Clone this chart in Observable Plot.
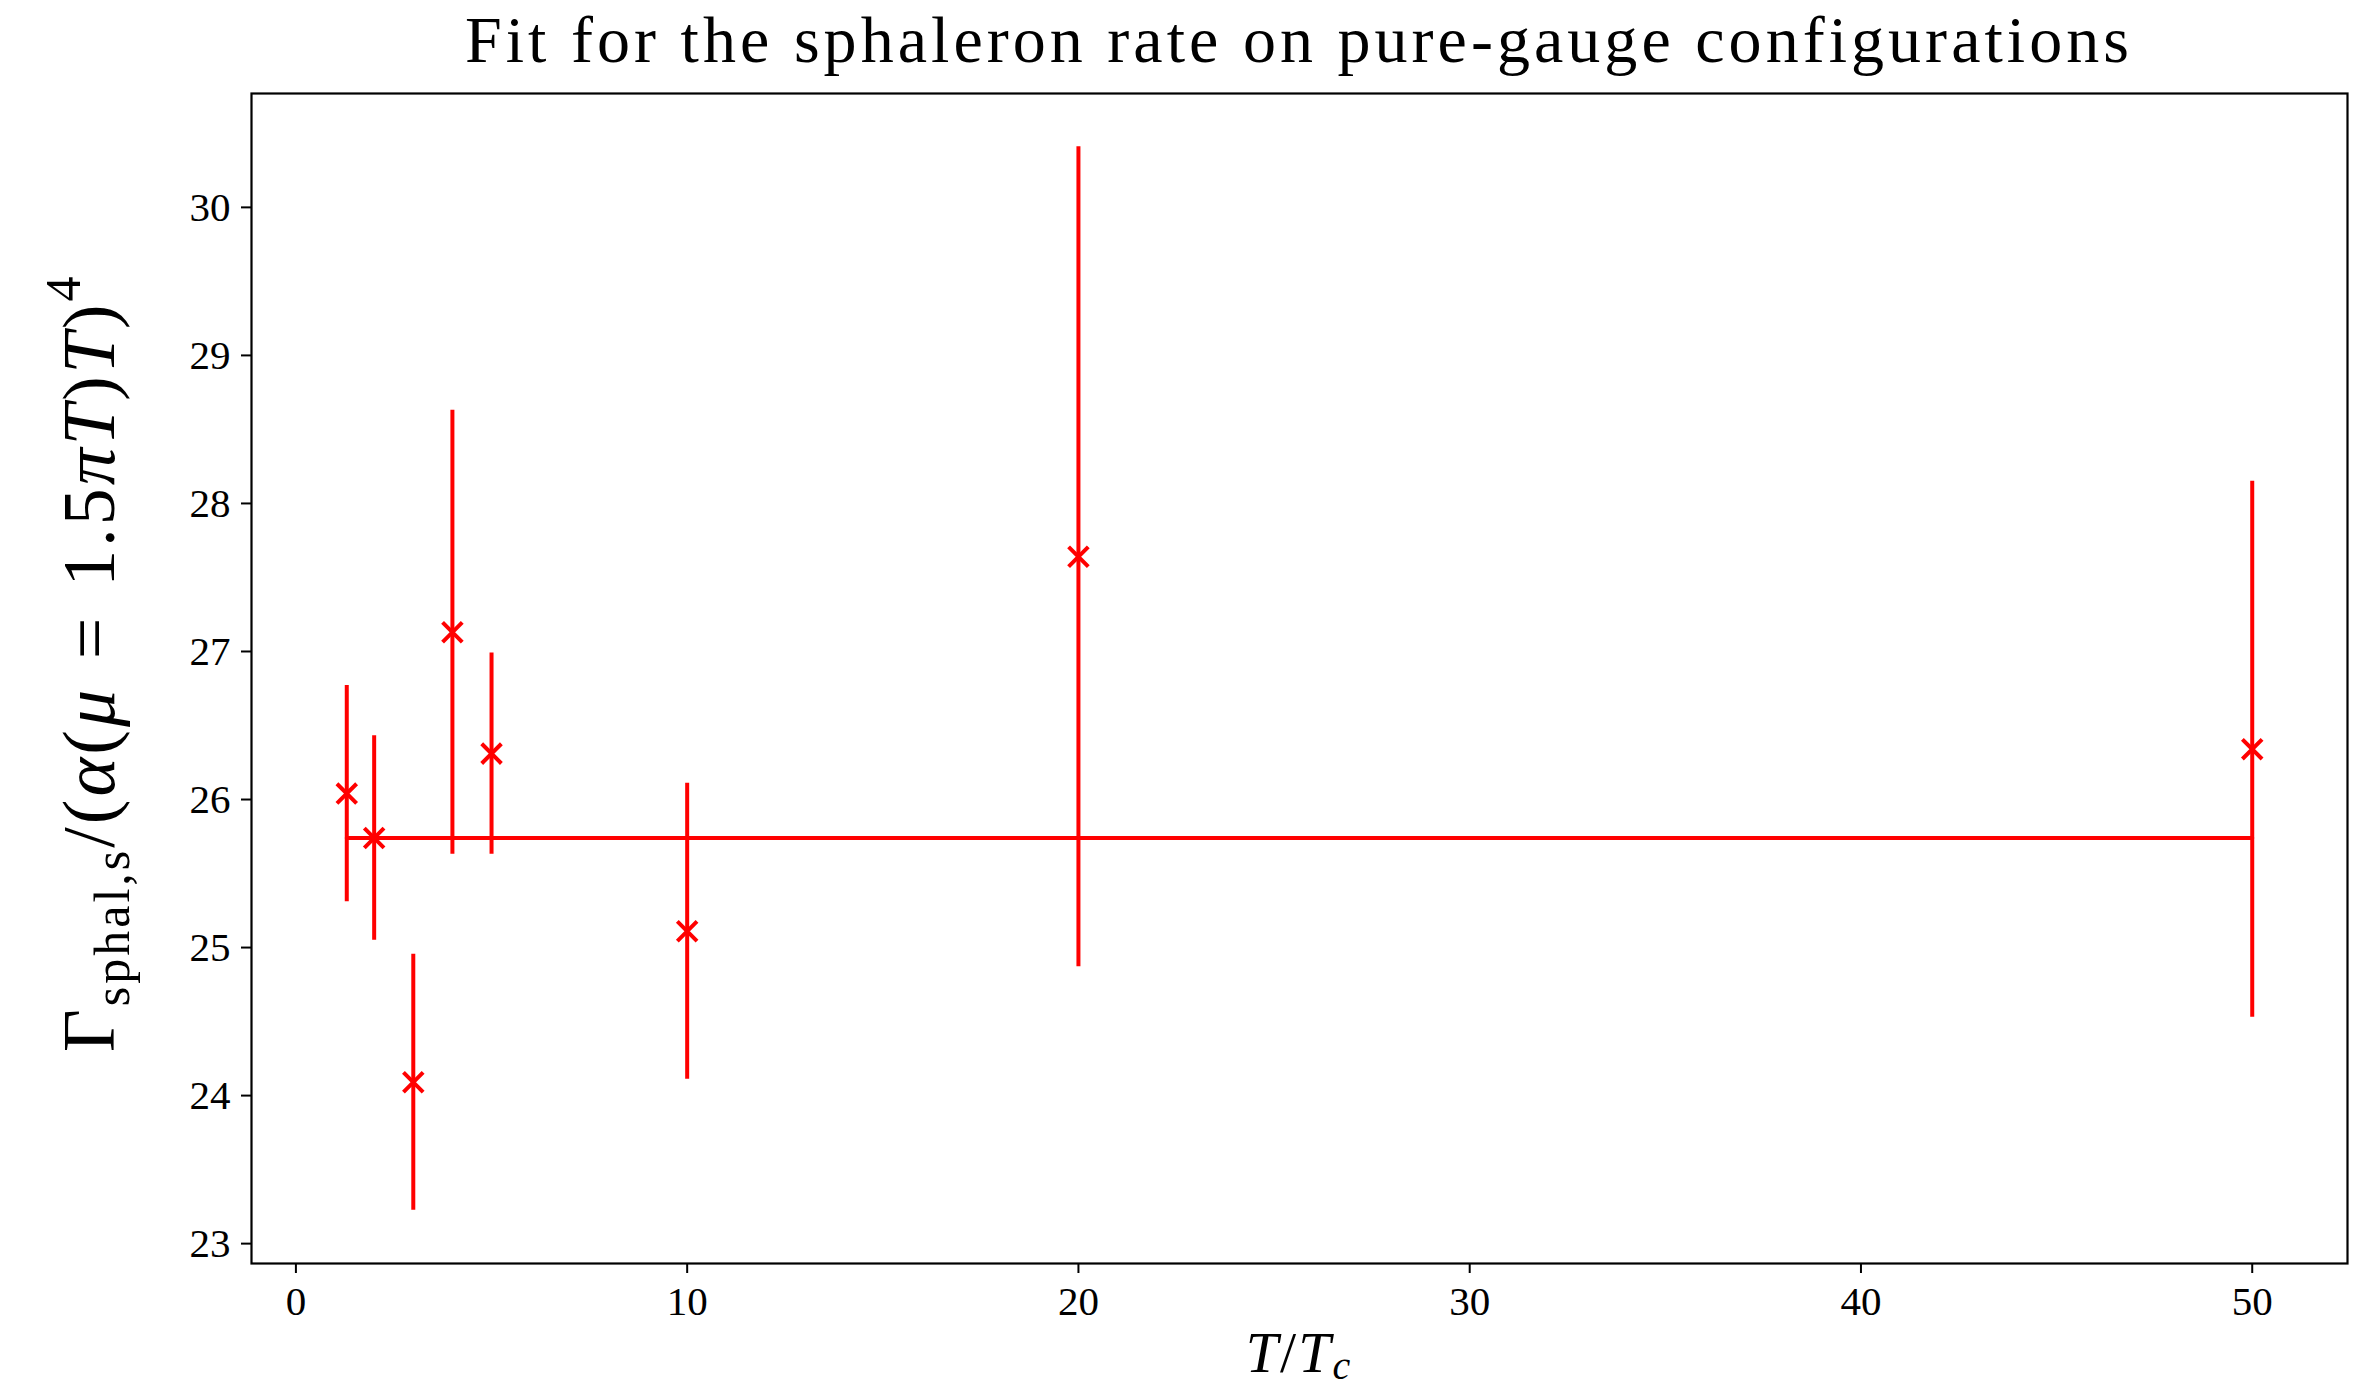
<!DOCTYPE html>
<html><head><meta charset="utf-8">
<script src="https://cdn.jsdelivr.net/npm/d3@7"></script>
<script src="https://cdn.jsdelivr.net/npm/@observablehq/plot@0.6"></script>
<style>
body{margin:0;background:#fff;}
#wrap{width:2361px;height:1388px;position:relative;overflow:hidden;background:#fff;}
#title{position:absolute;left:251px;width:2096px;top:7px;text-align:center;font-family:"Liberation Serif",serif;font-size:66px;line-height:1;white-space:nowrap;color:#000;}
#chart{position:absolute;left:0;top:80px;}
</style></head><body>
<div id="wrap"><div id="title"></div><div id="chart"></div></div>
<script>
// ---- data ----
const titleText = "Fit for the sphaleron rate on pure-gauge configurations";
const temps  = [1.3, 2, 3, 4, 5, 10, 20, 50];            // T/Tc
const rates  = [26.04, 25.74, 24.09, 27.13, 26.31, 25.11, 27.64, 26.34];
const errors = [0.73, 0.69, 0.865, 1.50, 0.68, 1.00, 2.77, 1.81];
const fitValue = 25.74;
const xTicks = [0, 10, 20, 30, 40, 50];
const yTicks = [23, 24, 25, 26, 27, 28, 29, 30];

// ---- table ----
const points = temps.map((t, i) => ({
  t, r: rates[i], lo: rates[i] - errors[i], hi: rates[i] + errors[i], fit: fitValue
}));

// matplotlib-like 5% autoscale margins
const xMin = d3.min(temps), xMax = d3.max(temps);
const xPad = 0.05 * (xMax - xMin);
const yMin = d3.min(points, d => d.lo), yMax = d3.max(points, d => d.hi);
const yPad = 0.05 * (yMax - yMin);

// title
const titleEl = document.getElementById("title");
titleEl.textContent = titleText;
{
  const ctx = document.createElement("canvas").getContext("2d");
  ctx.font = '66px "Liberation Serif"';
  const w = ctx.measureText(titleText).width;
  titleEl.style.letterSpacing = Math.max(0, (1668 - w) / (titleText.length)) + "px";
}

const W = 2361, H = 1308;
const mL = 251, mR = 14, mT = 13, mB = 125;
const red = "#ff0000";

const chart = Plot.plot({
  width: W, height: H,
  marginLeft: mL, marginRight: mR, marginTop: mT, marginBottom: mB,
  style: {fontFamily: '"Liberation Serif", serif', fontSize: "41px", color: "#000", background: "#fff", overflow: "visible"},
  x: {domain: [xMin - xPad, xMax + xPad]},
  y: {domain: [yMin - yPad, yMax + yPad]},
  marks: [
    Plot.line(points, {x: "t", y: "fit", stroke: red, strokeWidth: 4}),
    Plot.ruleX(points, {x: "t", y1: "lo", y2: "hi", stroke: red, strokeWidth: 4}),
    Plot.dot(points, {x: "t", y: "r", symbol: "times", r: 9, stroke: red, strokeWidth: 4}),
    Plot.axisX({ticks: xTicks, tickSize: 10, tickPadding: 12, fontSize: 41, strokeWidth: 2, label: null, tickFormat: d => String(d)}),
    Plot.axisY({ticks: yTicks, tickSize: 10, tickPadding: 11, fontSize: 41, strokeWidth: 2, label: null, tickFormat: d => String(d)}),
    Plot.frame({stroke: "#000", strokeWidth: 2.2})
  ]
});
document.getElementById("chart").appendChild(chart);

// axis labels (math-style text)
const svg = d3.select(chart);
const yl = svg.append("text")
  .attr("transform", `translate(114, 972) rotate(-90)`)
  .attr("text-anchor", "start")
  .attr("font-family", '"Liberation Serif", serif')
  .attr("font-size", 74)
  .attr("letter-spacing", 3)
  .attr("fill", "#000");
const parts = [
  {t: "Γ"},
  {t: "sphal,s", size: 50, dy: 15},
  {t: "/(", dy: -15},
  {t: "α", it: true},
  {t: "("},
  {t: "μ", it: true},
  {t: "\u2004=\u20041.5"},
  {t: "πT", it: true},
  {t: ")"},
  {t: "T", it: true},
  {t: ")"},
  {t: "4", size: 50, dy: -34}
];
for (const p of parts) {
  const ts = yl.append("tspan").text(p.t);
  if (p.size) ts.attr("font-size", p.size);
  if (p.dy) ts.attr("dy", p.dy);
  if (p.it) ts.attr("font-style", "italic");
}

const xl = svg.append("text")
  .attr("x", (mL + W - mR) / 2)
  .attr("y", 1292)
  .attr("text-anchor", "middle")
  .attr("font-family", '"Liberation Serif", serif')
  .attr("font-size", 58)
  .attr("letter-spacing", 2)
  .attr("fill", "#000");
xl.append("tspan").attr("font-style", "italic").text("T");
xl.append("tspan").text("/");
xl.append("tspan").attr("font-style", "italic").text("T");
xl.append("tspan").attr("font-style", "italic").attr("font-size", 40).attr("dy", 7).text("c");
</script>
</body></html>
